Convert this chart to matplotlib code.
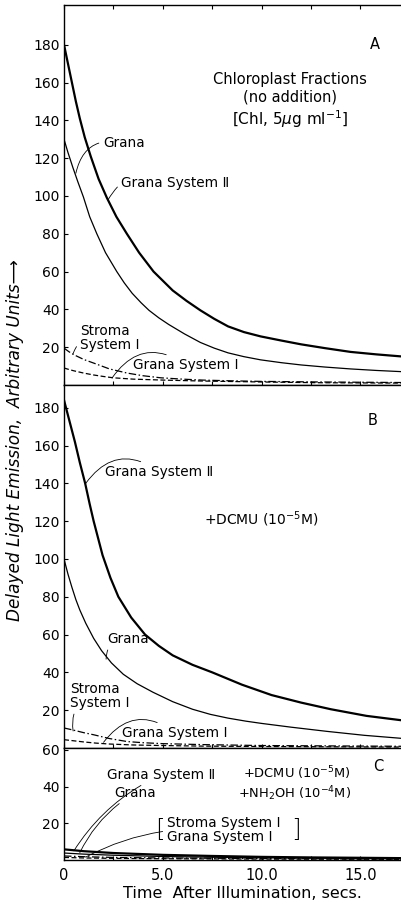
import matplotlib
matplotlib.use('Agg')
import matplotlib.pyplot as plt
from matplotlib.ticker import MultipleLocator

plt.rcParams['font.family'] = ['DejaVu Sans']
plt.rcParams['mathtext.fontset'] = 'dejavusans'

# --- panel A: chloroplast fractions, no addition ---
a_gII_t = [0, 0.2, 0.4, 0.6, 0.8, 1.05, 1.35, 1.75, 2.17, 2.65, 3.18, 3.8, 4.53, 5.5, 6.2,
           6.9, 7.6, 8.3, 9.1, 9.95, 11, 12, 13.2, 14.5, 15.8, 17.2]
a_gII_v = [180, 170, 160, 150, 141, 131, 121, 109, 99, 89, 80, 70, 60, 50, 44.5,
           39.5, 35, 31, 28, 25.7, 23.5, 21.5, 19.5, 17.5, 16.2, 15]
a_gr_t = [0, 0.2, 0.45, 0.7, 0.98, 1.3, 1.66, 2.1, 2.67, 3.05, 3.45, 3.9, 4.3, 4.8, 5.3,
          6.1, 6.9, 7.6, 8.3, 9.1, 9.95, 11, 12, 13.2, 14.5, 15.8, 17.2]
a_gr_v = [130, 123, 115, 107.5, 99.5, 89, 80, 70, 60, 54, 48.5, 43.5, 39.5, 35.5, 32,
          27, 22.5, 19.5, 17, 15, 13.3, 11.8, 10.6, 9.5, 8.5, 7.7, 7]
a_st_t = [0, 0.25, 0.5, 1, 1.5, 2.3, 3.2, 4, 4.9, 6, 7, 8.5, 10, 13, 17.2]
a_st_v = [19.5, 17.6, 16, 13.5, 11.6, 8.5, 6.3, 4.9, 3.8, 3.1, 2.6, 2.2, 1.9, 1.6, 1.3]
a_gI_t = [0, 0.25, 0.5, 1, 1.5, 2, 2.5, 3.5, 5, 7, 10, 13, 17.2]
a_gI_v = [9, 8.2, 7.5, 6.3, 5.3, 4.5, 3.8, 3.1, 2.6, 2.1, 1.6, 1.2, 1.0]

# --- panel B: +DCMU ---
b_gII_t = [0, 0.25, 0.55, 0.8, 1.07, 1.3, 1.5, 1.95, 2.35, 2.75, 3.4, 4.1, 4.8, 5.5, 6.5,
           7.5, 9, 10.5, 12, 13.5, 15.3, 17.2]
b_gII_v = [184, 174, 162, 151, 140, 129, 120, 102, 90, 80, 69, 60, 54, 49, 44,
           40, 33.5, 28, 24, 20.5, 17, 14.5]
b_gr_t = [0, 0.2, 0.4, 0.6, 0.8, 1.1, 1.5, 1.9, 2.4, 3.0, 3.7, 4.5, 5.5, 6.5, 7.4, 8.3,
          9.2, 10, 11.5, 13.3, 15.2, 17.2]
b_gr_v = [100, 92, 85, 78.5, 73, 66, 58, 51.5, 45, 39, 34, 29.5, 24.5, 20.5, 17.8, 15.8,
          14.2, 13, 11, 8.8, 6.7, 5]
b_st_t = [0, 0.5, 1, 1.5, 2.3, 3.2, 4, 5, 7, 10, 17.2]
b_st_v = [10.6, 9.4, 8.1, 7, 5, 3.4, 2.8, 2.3, 1.8, 1.3, 0.9]
b_gI_t = [0, 0.5, 1, 1.6, 2.3, 3.5, 5, 7, 10, 17.2]
b_gI_v = [4.4, 3.8, 3.2, 2.6, 2.1, 1.6, 1.3, 1.0, 0.8, 0.5]

# --- panel C: +DCMU +NH2OH ---
c_gII_t = [0, 1, 2.5, 5, 7.5, 10, 12.5, 15, 17.2]
c_gII_v = [5.8, 4.8, 3.8, 2.8, 2.2, 1.7, 1.4, 1.2, 1.0]
c_gr_t = [0, 1, 2.5, 5, 7.5, 10, 12.5, 15, 17.2]
c_gr_v = [3.8, 3.2, 2.6, 1.9, 1.5, 1.2, 1.0, 0.8, 0.7]
c_st_t = [0, 1, 2.5, 5, 10, 17.2]
c_st_v = [2.2, 1.8, 1.4, 1.1, 0.8, 0.5]
c_gI_t = [0, 1, 2.5, 5, 10, 17.2]
c_gI_v = [1.4, 1.1, 0.9, 0.7, 0.5, 0.35]

x_ticks = [0, 5, 10, 15]
x_tick_labels = ['0', '5.0', '10.0', '15.0']

FS = 9.8
DASHDOT = (0, (6, 2, 1.2, 2))
DASHED = (0, (4, 2))


def curves(ax, gII, gr, st, gI):
    '''四条衰减曲线'''
    ax.plot(gII[0], gII[1], color='black', lw=1.6)
    ax.plot(gr[0], gr[1], color='black', lw=0.9)
    ax.plot(st[0], st[1], color='black', lw=0.9, ls=DASHDOT)
    ax.plot(gI[0], gI[1], color='black', lw=0.9, ls=DASHED)


def label(ax, text, xy, xytext, rad=0.4, **kw):
    ax.annotate(text, xy=xy, xytext=xytext, fontsize=FS, ha='left', va='center',
                arrowprops=dict(arrowstyle='-', lw=0.6, color='black',
                                shrinkA=1, shrinkB=0,
                                connectionstyle='arc3,rad=%s' % rad), **kw)


def style(ax, ymax, yticks):
    ax.set_xlim(0, 17.1)
    ax.set_ylim(0, ymax)
    ax.set_yticks(yticks)
    ax.set_xticks(x_ticks)
    ax.xaxis.set_minor_locator(MultipleLocator(2.5))
    ax.spines['right'].set_visible(False)
    ax.tick_params(axis='y', direction='in', length=3, width=0.8, labelsize=10, pad=3)
    ax.tick_params(axis='x', which='both', direction='in', length=3, width=0.8,
                   labelsize=10.5, top=False)
    for s in ax.spines.values():
        s.set_linewidth(1.0)


def main():
    fig = plt.figure(figsize=(4.02, 9.06), dpi=100)
    gs = fig.add_gridspec(3, 1, height_ratios=[380, 363, 112], hspace=0,
                          left=64 / 402, right=1.0, top=1 - 5 / 906, bottom=1 - 860 / 906)
    ax_a = fig.add_subplot(gs[0])
    ax_b = fig.add_subplot(gs[1], sharex=ax_a)
    ax_c = fig.add_subplot(gs[2], sharex=ax_a)

    # A
    curves(ax_a, (a_gII_t, a_gII_v), (a_gr_t, a_gr_v), (a_st_t, a_st_v), (a_gI_t, a_gI_v))
    style(ax_a, 201, range(20, 181, 20))
    ax_a.tick_params(axis='x', which='both', top=True, labelbottom=False)
    ax_a.text(15.75, 180, 'A', fontsize=10.5, ha='center', va='center')
    ax_a.text(11.44, 161.4, 'Chloroplast Fractions', fontsize=10.5, ha='center', va='center')
    ax_a.text(11.44, 152.4, '(no addition)', fontsize=10.5, ha='center', va='center')
    ax_a.text(11.44, 140.7, r'[Chl, 5$\mu$g ml$^{-1}$]', fontsize=11, ha='center', va='center')
    label(ax_a, 'Grana', (0.6, 112), (1.97, 128), rad=0.5)
    label(ax_a, 'Grana System Ⅱ', (2.23, 98), (2.89, 107), rad=0.5)
    label(ax_a, 'Stroma\nSystem Ⅰ', (0.45, 16.4), (0.81, 25), rad=0.5, linespacing=1.0)
    label(ax_a, 'Grana System Ⅰ', (2.43, 3.7), (3.5, 10.6), rad=0.5)

    # B
    curves(ax_b, (b_gII_t, b_gII_v), (b_gr_t, b_gr_v), (b_st_t, b_st_v), (b_gI_t, b_gI_v))
    style(ax_b, 192, range(20, 181, 20))
    ax_b.tick_params(axis='x', which='both', labelbottom=False)
    ax_b.text(15.6, 173, 'B', fontsize=10.5, ha='center', va='center')
    ax_b.text(7.1, 121, r'+DCMU (10$^{-5}$M)', fontsize=10, ha='left', va='center')
    label(ax_b, 'Grana System Ⅱ', (1.1, 140), (2.08, 146), rad=0.5)
    label(ax_b, 'Grana', (2.13, 47), (2.18, 57.7), rad=0.5)
    label(ax_b, 'Stroma\nSystem Ⅰ', (0.46, 9), (0.3, 27.5), rad=0.5, linespacing=1.0)
    label(ax_b, 'Grana System Ⅰ', (2.0, 3), (2.94, 8), rad=0.5)

    # C
    curves(ax_c, (c_gII_t, c_gII_v), (c_gr_t, c_gr_v), (c_st_t, c_st_v), (c_gI_t, c_gI_v))
    style(ax_c, 61, [20, 40, 60])
    ax_c.set_xticklabels(x_tick_labels)
    ax_c.tick_params(axis='x', which='major', pad=6)
    ax_c.text(15.9, 50.7, 'C', fontsize=10.5, ha='center', va='center')
    ax_c.text(14.5, 47.3, r'+DCMU (10$^{-5}$M)', fontsize=9.4, ha='right', va='center')
    ax_c.text(14.5, 36.0, r'+NH$_2$OH (10$^{-4}$M)', fontsize=9.4, ha='right', va='center')
    label(ax_c, 'Grana System Ⅱ', (0.5, 5), (2.18, 46.3), rad=0.15)
    label(ax_c, 'Grana', (0.8, 4), (2.53, 36.5), rad=0.15)
    label(ax_c, 'Stroma System Ⅰ\nGrana System Ⅰ', (1.1, 1.6), (5.2, 16.3), rad=0.15,
          linespacing=1.0)
    ax_c.text(4.62, 16.3, '[', fontsize=18, ha='left', va='center', fontweight='light')
    ax_c.text(11.5, 16.3, ']', fontsize=18, ha='left', va='center', fontweight='light')

    fig.text(15 / 402, 1 - 440 / 906, 'Delayed Light Emission,  Arbitrary Units⟶',
             rotation=90, ha='center', va='center', fontsize=12.2, style='italic')
    fig.text(242 / 402, 1 - 893 / 906, 'Time  After Illumination, secs.',
             ha='center', va='center', fontsize=11.5)

    fig.savefig('out.png', dpi=100)


if __name__ == '__main__':
    main()
